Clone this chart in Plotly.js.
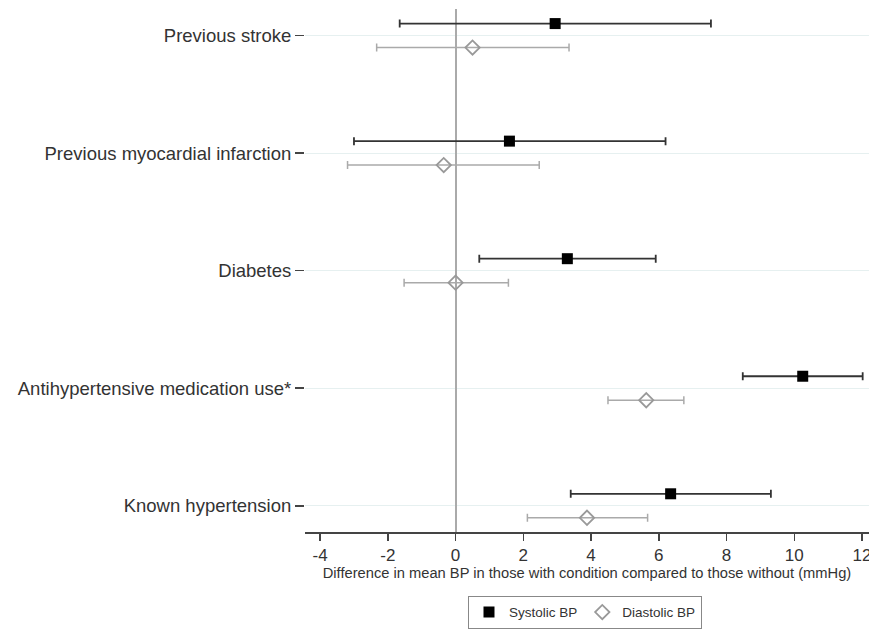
<!DOCTYPE html>
<html>
<head>
<meta charset="utf-8">
<script src="https://cdn.plot.ly/plotly-3.0.1.min.js"></script>
<style>html,body{margin:0;padding:0;background:#fff;overflow:hidden;}#chart{width:869px;height:629px;}</style>
</head>
<body>
<div id="chart"></div>
<script>
// Categories, bottom to top
const categories = ["Known hypertension", "Antihypertensive medication use*", "Diabetes", "Previous myocardial infarction", "Previous stroke"];

const systolicEst = [6.35, 10.25, 3.30, 1.59, 2.94];
const systolicLo  = [3.40, 8.48, 0.70, -3.00, -1.65];
const systolicHi  = [9.31, 12.02, 5.91, 6.20, 7.54];

const diastolicEst = [3.88, 5.63, 0.00, -0.35, 0.50];
const diastolicLo  = [2.12, 4.50, -1.52, -3.19, -2.33];
const diastolicHi  = [5.67, 6.74, 1.56, 2.47, 3.35];

const xTicks = [-4, -2, 0, 2, 4, 6, 8, 10, 12];

const pos = categories.map((c, i) => i);
const off = 0.102;

const traceSys = {
  type: 'scatter', mode: 'markers', name: 'Systolic BP',
  x: systolicEst, y: pos.map(p => p + off),
  marker: {symbol: 'square', size: 11, color: '#000'},
  error_x: {type: 'data', symmetric: false,
    array: systolicHi.map((h, i) => h - systolicEst[i]),
    arrayminus: systolicEst.map((v, i) => v - systolicLo[i]),
    color: '#333', thickness: 1.8, width: 4},
  hoverinfo: 'x'
};
const traceDia = {
  type: 'scatter', mode: 'markers', name: 'Diastolic BP',
  x: diastolicEst, y: pos.map(p => p - off),
  marker: {symbol: 'diamond-open', size: 11, color: '#999', line: {width: 1.8, color: '#999'}},
  error_x: {type: 'data', symmetric: false,
    array: diastolicHi.map((h, i) => h - diastolicEst[i]),
    arrayminus: diastolicEst.map((v, i) => v - diastolicLo[i]),
    color: '#aaa', thickness: 1.5, width: 4},
  hoverinfo: 'x'
};

const layout = {
  width: 869, height: 629,
  margin: {l: 305, r: 0, t: 9, b: 95},
  paper_bgcolor: '#fff', plot_bgcolor: '#fff',
  font: {family: 'Liberation Sans, Arial, sans-serif', color: '#333'},
  showlegend: true,
  legend: {orientation: 'h', x: 0.289, xanchor: 'left', y: -0.122, yanchor: 'top',
    bordercolor: '#888', borderwidth: 1, font: {size: 13.5, color: '#333'},
    itemwidth: 30, tracegroupgap: 0},
  xaxis: {
    range: [-4.446, 12.207], tickmode: 'array', tickvals: xTicks, ticktext: xTicks.map(String),
    showgrid: false, zeroline: true, zerolinecolor: '#aaa', zerolinewidth: 2,
    showline: true, linecolor: '#444', linewidth: 1.5,
    ticks: 'outside', ticklen: 7, tickwidth: 1.5, tickcolor: '#444',
    tickfont: {size: 17, color: '#333'}, ticklabeloverflow: 'allow',
    title: {text: 'Difference in mean BP in those with condition compared to those without (mmHg)', font: {size: 14.7, color: '#333'}, standoff: 2}
  },
  yaxis: {
    range: [-0.223, 4.226], tickmode: 'array', tickvals: pos, ticktext: categories,
    showgrid: true, gridcolor: '#e6f0f0', gridwidth: 1, zeroline: false,
    showline: false, ticks: 'outside', ticklen: 9, tickwidth: 1.5, tickcolor: '#444',
    tickfont: {size: 18.5, color: '#333'}
  }
};

Plotly.newPlot('chart', [traceSys, traceDia], layout, {displayModeBar: false, staticPlot: true});
</script>
</body>
</html>
